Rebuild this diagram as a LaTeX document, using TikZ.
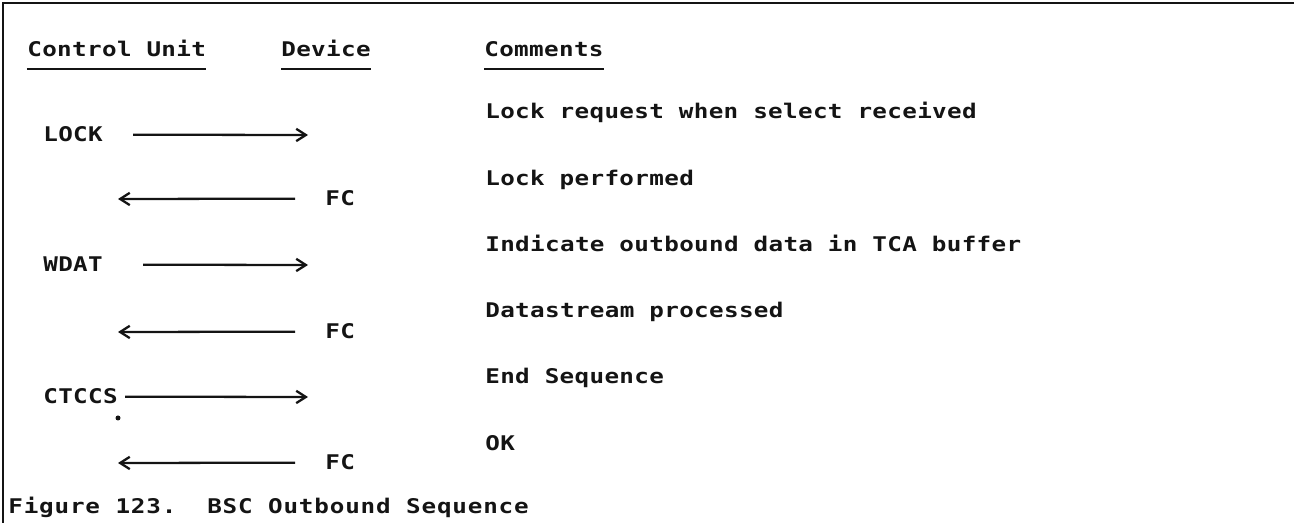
\documentclass[tikz,border=0pt]{standalone}
\usepackage{fontspec}
\usepackage{xcolor}
\usepackage{tikz}
\usetikzlibrary{arrows.meta}
\newfontfamily\scanfont[LetterSpace=1.7,FakeStretch=1.2]{DejaVu Sans Mono}
\definecolor{figline}{RGB}{20,20,20}
\tikzset{
  frm/.style  ={draw=figline, line width=1.4pt},
  uline/.style={draw=figline, line width=1.2pt},
  txt/.style  ={font=\scanfont\bfseries\fontsize{11.5}{13}\selectfont, text=figline, inner sep=0pt, anchor=base west},
  msg/.style  ={draw=figline, line width=1.3pt, -{Straight Barb[length=5.5pt,width=7pt]}},
}

\begin{document}
\begin{tikzpicture}
  \useasboundingbox (0,0) rectangle (25.88,10.46);
  \draw[frm] (0.06,0) -- (0.06,10.40) -- (25.88,10.40);
  % column heads
  \node[txt] (hcu) at (0.54,9.32) {Control Unit};
  \node[txt] (hdev) at (5.62,9.32) {Device};
  \node[txt] (hcom) at (9.68,9.32) {Comments};
  \draw[uline] ([yshift=-0.24cm]hcu.base west) -- ([yshift=-0.24cm]hcu.base east);
  \draw[uline] ([yshift=-0.24cm]hdev.base west) -- ([yshift=-0.24cm]hdev.base east);
  \draw[uline] ([yshift=-0.24cm]hcom.base west) -- ([yshift=-0.24cm]hcom.base east);
  % comments
  \node[txt] (c1) at (9.70,8.08) {Lock request when select received};
  \node[txt] (c2) at (9.70,6.755) {Lock performed};
  \node[txt] (c3) at (9.70,5.43) {Indicate outbound data in TCA buffer};
  \node[txt] (c4) at (9.70,4.105) {Datastream processed};
  \node[txt] (c5) at (9.70,2.78) {End Sequence};
  \node[txt] (c6) at (9.70,1.455) {OK};
  % flows
  \node[txt] (lock) at (0.86,7.62) {LOCK};
  \coordinate (dev1) at (6.16,7.76);
  \draw[msg,shorten <=0.6cm] (lock) -- (dev1);
  \node[txt] (fc1) at (6.5,6.34) {FC};
  \coordinate (cu1) at (2.36,6.48);
  \draw[msg,shorten <=0.6cm] (fc1) -- (cu1);
  \node[txt] (wdat) at (0.86,5.02) {WDAT};
  \coordinate (dev2) at (6.16,5.16);
  \draw[msg,shorten <=0.8cm] (wdat) -- (dev2);
  \node[txt] (fc2) at (6.5,3.68) {FC};
  \coordinate (cu2) at (2.36,3.82);
  \draw[msg,shorten <=0.6cm] (fc2) -- (cu2);
  \node[txt] (ctccs) at (0.86,2.38) {CTCCS};
  \coordinate (dev3) at (6.16,2.52);
  \draw[msg,shorten <=0.14cm] (ctccs) -- (dev3);
  \node[txt] (fc3) at (6.5,1.06) {FC};
  \coordinate (cu3) at (2.36,1.20);
  \draw[msg,shorten <=0.6cm] (fc3) -- (cu3);
  \fill[figline] (2.36,2.10) circle (0.05);
  % caption
  \node[txt] (cap) at (0.16,0.18) {\addfontfeature{LetterSpace=4.1}Figure 123.\ \ BSC Outbound Sequence};
\end{tikzpicture}
\end{document}
